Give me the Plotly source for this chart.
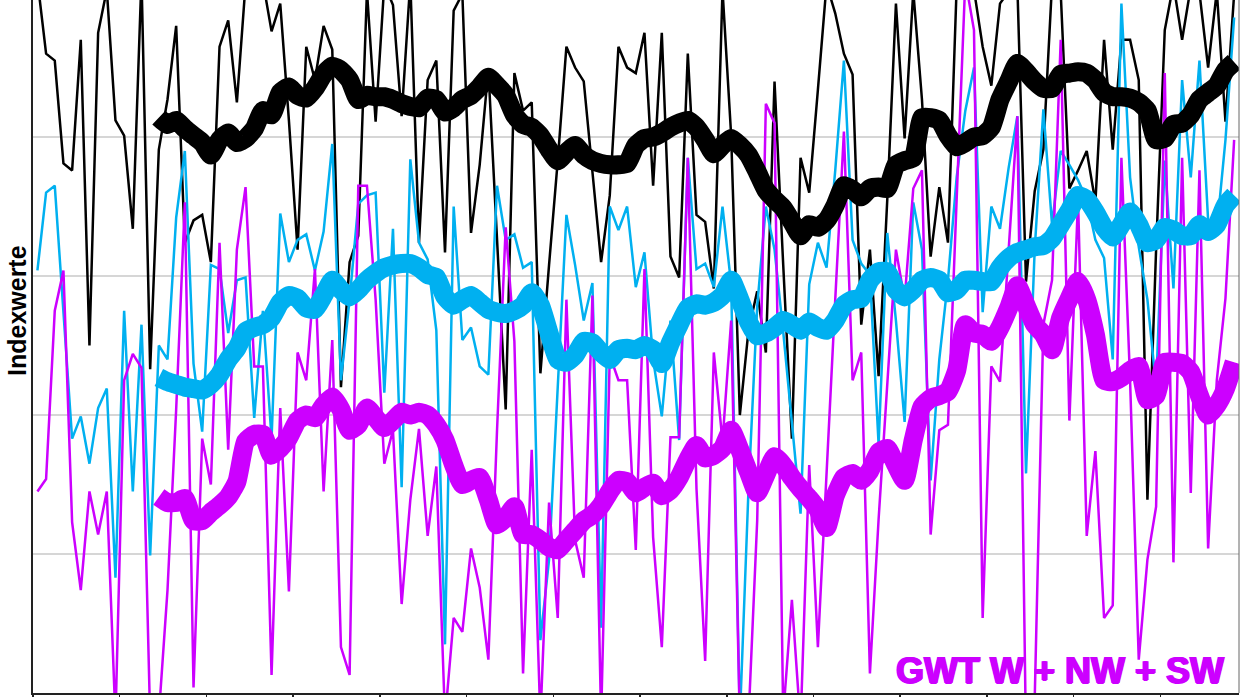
import plotly.graph_objects as go

# Years (annual values)
years = list(range(1881, 2020))

# Annual index values (thin lines)
black_annual = [
    51.3, 46.0, 45.5, 38.1, 37.6, 47.0, 25.0, 47.5, 50.6, 41.2,
    40.1, 33.4, 51.5, 23.3, 39.1, 42.7, 48.0, 32.4, 34.0, 34.4,
    31.0, 46.5, 48.4, 42.5, 51.0, 50.4, 51.2, 47.6, 49.6, 41.2,
    31.9, 46.5, 44.1, 48.0, 46.3, 22.0, 31.0, 32.9, 50.5, 41.1,
    51.0, 49.5, 41.5, 51.2, 32.4, 44.1, 45.5, 31.7, 49.1, 50.3,
    33.1, 38.0, 44.9, 32.6, 20.4, 44.6, 41.9, 42.5, 23.0, 30.8,
    38.3, 46.5, 45.0, 44.0, 37.5, 31.0, 35.8, 46.5, 45.0, 44.6,
    47.5, 36.5, 47.5, 31.4, 29.9, 46.0, 34.4, 33.9, 29.1, 50.6,
    40.1, 20.0, 26.1, 28.9, 24.5, 44.0, 30.8, 18.3, 38.5, 36.0,
    43.4, 51.0, 48.9, 46.0, 44.5, 26.5, 31.9, 22.8, 35.5, 49.6,
    39.9, 50.5, 42.7, 31.4, 36.4, 32.4, 50.8, 50.4, 50.6, 46.5,
    43.7, 49.6, 50.5, 50.9, 29.6, 36.1, 39.1, 51.0, 50.4, 36.3,
    37.6, 39.0, 35.3, 47.0, 39.1, 47.0, 47.0, 44.1, 13.9, 31.9,
    47.7, 51.0, 47.0, 50.8, 50.4, 45.0, 50.5, 41.1, 50.3,
]
cyan_annual = [
    30.4, 36.0, 36.5, 27.5, 18.3, 19.9, 16.5, 20.5, 21.9, 8.3,
    27.5, 14.5, 26.5, 9.9, 25.0, 24.0, 34.2, 39.0, 23.7, 18.8,
    30.8, 30.5, 25.9, 29.7, 29.9, 19.8, 27.5, 18.3, 34.5, 31.0,
    32.6, 33.0, 30.4, 33.2, 39.5, 22.5, 28.3, 35.2, 35.8, 36.0,
    21.6, 33.4, 14.8, 38.4, 32.4, 31.2, 26.1, 3.5, 35.0, 25.4,
    26.3, 23.5, 22.9, 36.5, 32.6, 33.0, 30.6, 31.0, 3.8, 9.6,
    22.5, 34.4, 30.8, 26.8, 29.5, 4.7, 35.0, 33.3, 35.0, 29.2,
    31.7, 24.0, 19.9, 26.8, 18.2, 38.5, 30.5, 30.9, 29.2, 35.0,
    29.4, -1.9, 14.7, 27.8, 35.0, 31.9, 26.0, 19.6, 12.9, 29.4,
    32.4, 30.6, 37.6, 45.5, 32.6, 30.9, 30.1, 17.9, 33.1, 26.8,
    19.5, 35.3, 31.9, 15.3, 24.0, 29.7, 37.1, 41.9, 45.0, 27.4,
    35.0, 33.4, 37.8, 41.5, 15.8, 31.9, 42.0, 33.7, 39.0, 38.0,
    36.9, 35.5, 32.6, 31.3, 24.0, 49.6, 37.1, 32.1, 28.3, 22.0,
    38.3, 29.1, 44.1, 37.1, 45.5, 34.0, 33.3, 39.8, 48.6,
]
magenta_annual = [
    14.5, 15.4, 27.5, 30.4, 12.3, 7.4, 14.5, 11.4, 14.5, -1.9,
    22.5, 24.4, 23.4, -1.9, -1.6, 7.4, 20.4, 35.3, 0.4, 18.3,
    15.0, 32.4, 17.5, 31.9, 36.4, 23.5, 23.5, 1.3, 20.5, 7.3,
    24.5, 22.5, 30.5, 14.5, 25.4, 3.3, 1.3, 36.5, 36.5, 28.3,
    16.5, 18.9, 6.4, 13.9, 19.0, 11.3, 16.3, -1.9, 5.4, 4.4,
    10.4, 7.6, 2.4, 18.9, 33.5, 25.3, 1.4, 17.5, -1.9, 13.7,
    5.4, 28.3, 11.0, 8.3, 28.6, -1.9, 24.3, 22.5, 22.5, 10.3,
    30.5, 11.2, 3.3, 18.4, 18.4, 38.5, 14.7, 2.3, 24.5, 18.1,
    26.8, -2.3, -1.9, 12.4, 42.4, 41.0, -1.6, 6.7, -2.3, 16.4,
    3.3, 15.3, 28.3, 40.4, 22.5, 24.5, 1.4, 12.5, 22.4, 31.9,
    28.3, 36.3, 37.6, 11.4, 18.9, 19.3, 35.5, 51.3, 47.7, 5.4,
    23.5, 22.4, 31.9, 41.5, -3.4, -0.5, 26.5, 29.7, 47.0, 19.6,
    35.5, 11.3, 17.4, 5.4, 6.3, 38.5, 22.5, 2.4, 9.6, 13.4,
    44.6, 9.4, 38.5, 14.4, 37.6, 10.4, 22.5, 28.4, 39.8,
]

# Smoothed values (thick lines), ending with the last year
black_smooth = [
    41.4, 40.9, 41.2, 40.6, 40.1, 39.6, 38.7, 39.8, 40.3, 39.6,
    39.9, 40.6, 41.9, 41.6, 43.2, 43.6, 43.0, 42.8, 43.5, 44.5,
    45.1, 44.8, 44.1, 42.7, 43.0, 42.9, 42.9, 42.7, 42.4, 42.2,
    42.1, 42.8, 42.7, 41.8, 42.1, 42.7, 43.0, 43.6, 44.3, 43.7,
    43.0, 41.6, 40.9, 40.7, 40.1, 39.1, 38.3, 38.9, 39.4, 38.7,
    38.3, 38.1, 38.0, 38.0, 38.1, 39.4, 39.9, 40.0, 40.3, 40.7,
    41.0, 41.2, 40.7, 39.8, 38.8, 39.4, 39.9, 39.4, 38.7, 37.5,
    36.2, 35.5, 34.9, 33.9, 32.9, 33.7, 33.5, 34.0, 35.1, 36.5,
    36.2, 35.7, 36.3, 36.4, 36.3, 38.0, 38.3, 38.5, 41.4, 41.4,
    41.2, 40.1, 39.3, 39.6, 40.0, 40.1, 40.7, 42.7, 44.0, 45.3,
    44.7, 44.0, 43.5, 43.5, 44.5, 44.6, 44.7, 44.6, 44.1, 43.2,
    42.9, 42.9, 42.8, 42.5, 41.9, 39.8, 39.9, 40.9, 41.0, 41.6,
    42.7, 43.2, 43.7, 44.8, 45.4,
]
cyan_smooth = [
    22.7, 22.4, 22.2, 22.0, 21.9, 21.8, 22.2, 22.9, 24.0, 24.8,
    26.0, 26.3, 26.5, 27.0, 28.1, 28.6, 28.4, 27.7, 27.6, 28.6,
    29.7, 29.0, 28.5, 29.0, 29.7, 30.2, 30.6, 30.8, 30.9, 30.9,
    30.6, 30.1, 29.9, 28.5, 27.9, 28.3, 28.6, 28.1, 27.6, 27.4,
    27.3, 27.5, 27.9, 28.8, 27.9, 25.9, 24.0, 23.8, 24.3, 25.3,
    25.2, 24.5, 24.0, 24.7, 24.8, 24.7, 25.0, 24.7, 23.7, 25.2,
    26.5, 27.7, 28.0, 27.9, 28.1, 28.6, 29.7, 28.3, 26.7, 25.7,
    25.9, 26.3, 26.8, 26.5, 26.1, 26.7, 26.3, 26.1, 26.8, 27.9,
    28.3, 28.4, 29.7, 30.3, 30.3, 29.0, 28.5, 29.0, 29.7, 29.9,
    29.7, 28.8, 29.0, 29.7, 29.7, 29.6, 29.6, 30.6, 31.3, 31.7,
    31.9, 32.1, 32.2, 32.7, 33.7, 34.7, 35.8, 35.5, 34.6, 33.5,
    32.8, 33.7, 34.6, 33.7, 32.4, 32.6, 33.5, 33.3, 32.9, 32.9,
    33.7, 33.2, 33.7, 35.1, 35.8,
]
magenta_smooth = [
    14.1, 13.7, 13.7, 14.0, 12.4, 12.4, 13.0, 13.5, 14.1, 15.2,
    18.1, 18.6, 18.6, 17.1, 17.6, 18.4, 19.6, 20.0, 19.8, 20.7,
    21.3, 20.4, 18.9, 19.3, 20.5, 19.8, 19.1, 19.6, 20.2, 20.0,
    20.2, 20.0, 19.3, 18.2, 16.4, 15.0, 15.3, 15.5, 13.9, 12.1,
    12.6, 13.4, 11.4, 11.4, 11.0, 10.5, 10.3, 11.0, 11.7, 12.4,
    12.8, 13.5, 14.5, 15.3, 15.2, 14.4, 14.8, 15.1, 14.2, 14.6,
    15.5, 16.8, 17.8, 16.9, 17.1, 17.6, 18.9, 17.5, 15.9, 14.4,
    15.7, 17.0, 16.4, 15.5, 14.7, 14.0, 13.2, 11.9, 14.2, 15.5,
    15.8, 15.3, 16.0, 17.3, 17.6, 16.4, 15.3, 18.2, 20.6, 21.2,
    21.4, 21.7, 23.2, 26.5, 25.9, 25.8, 25.3, 26.3, 27.7, 29.3,
    27.9, 26.5, 25.8, 24.7, 27.0, 28.4, 29.6, 28.3, 25.8, 22.5,
    22.4, 22.7, 23.2, 23.5, 21.1, 21.4, 23.8, 23.8, 23.7, 23.1,
    21.4, 20.0, 20.7, 21.9, 23.8,
]

BLACK = "#000000"
CYAN = "#00B0F0"
MAGENTA = "#CC00FF"

fig = go.Figure()

for vals, col in [(black_annual, BLACK), (cyan_annual, CYAN), (magenta_annual, MAGENTA)]:
    fig.add_trace(go.Scatter(x=years[:len(vals)], y=vals, mode="lines",
                             line=dict(color=col, width=2.5), hoverinfo="skip"))

for vals, col in [(black_smooth, BLACK), (cyan_smooth, CYAN), (magenta_smooth, MAGENTA)]:
    xs = years[len(years) - len(vals):]
    fig.add_trace(go.Scatter(x=xs, y=vals, mode="lines",
                             line=dict(color=col, width=19, shape="spline", smoothing=0.5),
                             hoverinfo="skip"))

W, H = 1240, 697
ML, MR, MT, MB = 33, 1, 0, 4
pw = W - ML - MR
ph = H - MT - MB

fig.update_layout(
    width=W, height=H,
    margin=dict(l=ML, r=MR, t=MT, b=MB, pad=0, autoexpand=False),
    plot_bgcolor="white", paper_bgcolor="white",
    showlegend=False,
    hovermode=False,
    xaxis=dict(range=[1880.49, 2019.56], showgrid=False, zeroline=False,
               showline=True, linecolor="#222222", linewidth=2,
               ticks="outside", ticklen=6, tickwidth=1.5, tickcolor="#222222",
               tick0=1880.49, dtick=10, showticklabels=False),
    yaxis=dict(range=[0, 49.86], dtick=10, showgrid=True, gridcolor="#d6d6d6",
               gridwidth=1.5, zeroline=False, showline=True, linecolor="#222222",
               linewidth=2, ticks="", showticklabels=False),
    shapes=[dict(type="line", xref="paper", yref="paper", x0=1, x1=1, y0=0, y1=1,
                 line=dict(color="#666666", width=1))],
    annotations=[
        dict(text="<b>GWT W + NW + SW</b>", xref="paper", yref="paper",
             x=(1226 - ML) / pw, y=(693 - 670) / ph, xanchor="right", yanchor="middle",
             showarrow=False,
             font=dict(family="Liberation Sans", size=36, color=MAGENTA,
                       shadow="1px 0 0 #CC00FF, -1px 0 0 #CC00FF, 0 1px 0 #CC00FF")),
        dict(text="<b>Indexwerte</b>", xref="paper", yref="paper",
             x=(17 - ML) / pw, y=(693 - 311) / ph, xanchor="center", yanchor="middle",
             textangle=-90, showarrow=False,
             font=dict(family="Liberation Sans", size=25, color="#000000")),
    ],
)

fig.write_html(
    "out.html",
    config={"displayModeBar": False, "staticPlot": True},
    post_script="document.body.style.margin='0';document.body.style.overflow='hidden';",
)
